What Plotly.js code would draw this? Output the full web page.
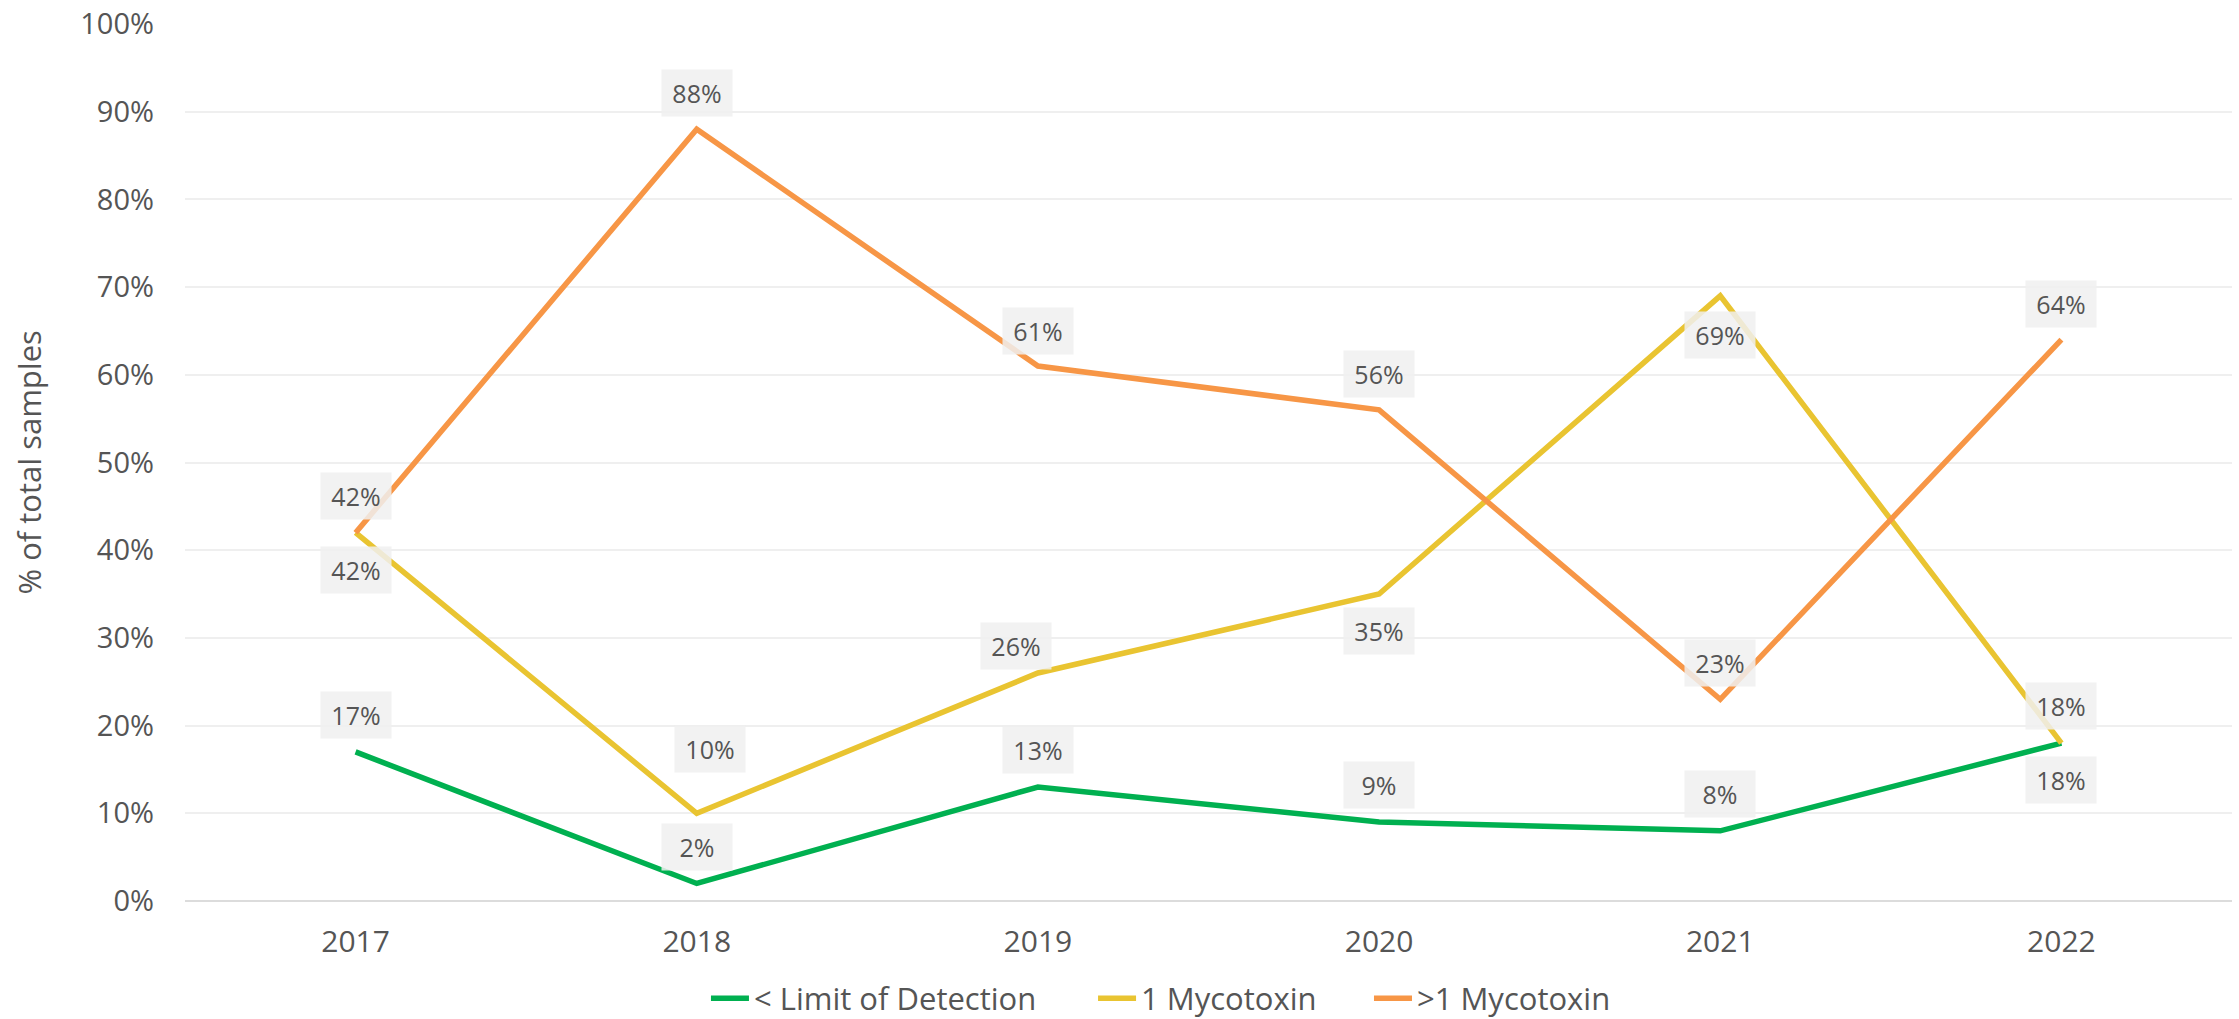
<!DOCTYPE html>
<html>
<head>
<meta charset="utf-8">
<script src="https://cdn.plot.ly/plotly-3.0.1.min.js"></script>
<style>
  html, body { margin: 0; padding: 0; background: #ffffff; }
  #chart { width: 2239px; height: 1019px; }
</style>
</head>
<body>
<div id="chart"></div>
<script>
// ---- Data ----
const years = ["2017", "2018", "2019", "2020", "2021", "2022"];
const belowLOD = [17, 2, 13, 9, 8, 18];
const oneMyco = [42, 10, 26, 35, 69, 18];
const multiMyco = [42, 88, 61, 56, 23, 64];
const seriesNames = ["< Limit of Detection", "1 Mycotoxin", ">1 Mycotoxin"];
const yTickVals = [0, 10, 20, 30, 40, 50, 60, 70, 80, 90, 100];
const yTitle = "% of total samples";

// ---- Styling ----
const FONT = "'Open Sans', 'Noto Sans', sans-serif";
const colors = ["#00B050", "#E9C431", "#F79646"];
const textColor = "#555555";

// label placement (style, not data): vertical / horizontal shift in px
const labelPlacement = [
  { dy: [37, 36, 37, 37, 37, -37], dx: [0, 0, 0, 0, 0, 0] },
  { dy: [-37, 64, 27, -37, -39, 37], dx: [0, 13, -22, 0, 0, 0] },
  { dy: [37, 36, 35, 36, 36, 36], dx: [0, 0, 0, 0, 0, 0] }
];

// legend entry positions (paper x of each legend box)
const legendIds = ["legend", "legend2", "legend3"];
const legendX = [0.2545, 0.4436, 0.5784];

const allSeries = [belowLOD, oneMyco, multiMyco];

const traces = allSeries.map((vals, i) => ({
  type: "scatter",
  mode: "lines",
  name: seriesNames[i],
  legend: legendIds[i],
  x: years,
  y: vals,
  line: { color: colors[i], width: 5.5 },
  hoverinfo: "x+y+name"
}));

const annotations = [];
allSeries.forEach((vals, i) => {
  vals.forEach((v, j) => {
    annotations.push({
      x: j,               // category index of years[j]
      y: v,
      xref: "x",
      yref: "y",
      text: v + "%",
      showarrow: false,
      yshift: labelPlacement[i].dy[j],
      xshift: labelPlacement[i].dx[j],
      width: 54,
      height: 30,
      align: "center",
      valign: "middle",
      bgcolor: "rgba(240,240,240,0.85)",
      borderpad: 8,
      font: { family: FONT, size: 25, color: textColor }
    });
  });
});

// y-axis title as rotated text
annotations.push({
  xref: "paper", yref: "paper",
  x: 0, y: 0.5,
  xanchor: "center", yanchor: "middle",
  xshift: -157,
  text: yTitle,
  textangle: -90,
  showarrow: false,
  font: { family: FONT, size: 31, color: textColor }
});

function legendCfg(x) {
  return {
    orientation: "h",
    xref: "paper",
    x: x,
    xanchor: "left",
    yref: "container",
    y: 0.02,
    yanchor: "middle",
    font: { family: FONT, size: 31, color: textColor },
    itemwidth: 38,
    bgcolor: "rgba(0,0,0,0)"
  };
}

const layout = {
  width: 2239,
  height: 1019,
  paper_bgcolor: "#ffffff",
  plot_bgcolor: "#ffffff",
  margin: { l: 185, r: 7, t: 24, b: 118 },
  font: { family: FONT, color: textColor },
  showlegend: true,
  legend: legendCfg(legendX[0]),
  legend2: legendCfg(legendX[1]),
  legend3: legendCfg(legendX[2]),
  xaxis: {
    type: "category",
    range: [-0.5, 5.5],
    showgrid: false,
    zeroline: false,
    showline: false,
    ticks: "",
    ticklabelstandoff: 20,
    tickfont: { family: FONT, size: 30, color: textColor },
    fixedrange: true
  },
  yaxis: {
    range: [0, 100],
    tickvals: yTickVals,
    ticktext: yTickVals.map(v => v + "%"),
    showgrid: true,
    gridcolor: "#efefef",
    gridwidth: 2,
    zeroline: true,
    zerolinecolor: "#dcdcdc",
    zerolinewidth: 2,
    showline: false,
    ticks: "",
    ticklabelstandoff: 30,
    tickfont: { family: FONT, size: 29, color: textColor },
    fixedrange: true
  },
  annotations: annotations
};

Plotly.newPlot("chart", traces, layout, { displayModeBar: false });
</script>
</body>
</html>
